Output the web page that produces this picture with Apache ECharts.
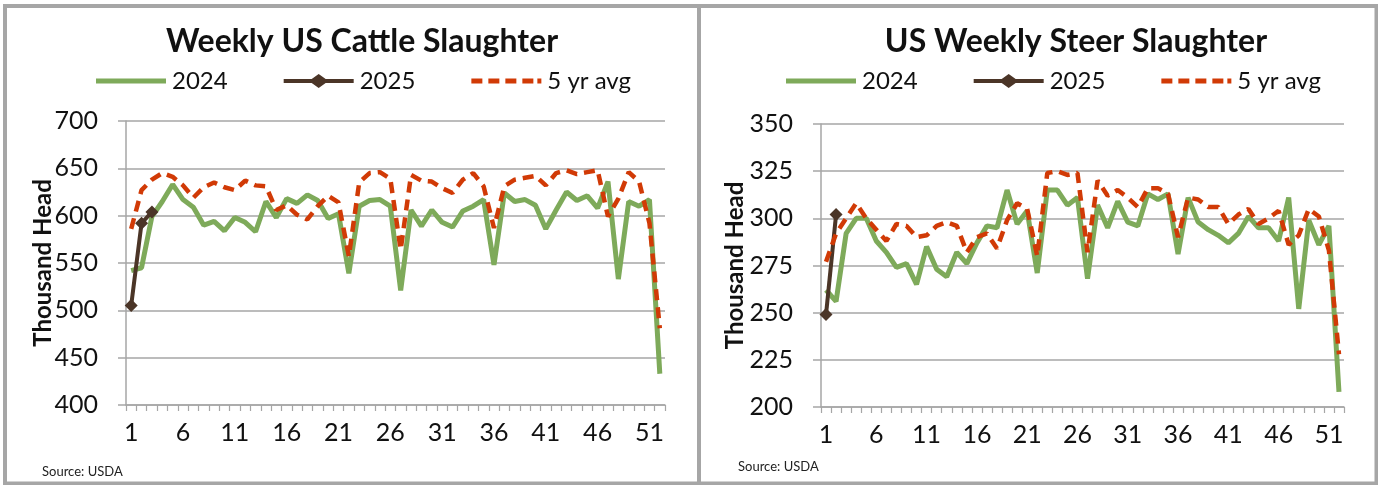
<!DOCTYPE html>
<html>
<head>
<meta charset="utf-8">
<script src="https://cdn.jsdelivr.net/npm/echarts@6/dist/echarts.min.js"></script>
<style>
html,body{margin:0;padding:0;background:#fff;}
#c{width:1378px;height:485px;}
</style>
</head>
<body>
<div id="c"></div>
<script>
const weeks = [1,2,3,4,5,6,7,8,9,10,11,12,13,14,15,16,17,18,19,20,21,22,23,24,25,26,27,28,29,30,31,32,33,34,35,36,37,38,39,40,41,42,43,44,45,46,47,48,49,50,51,52].map(String);

// Weekly US Cattle Slaughter (thousand head)
const cattle2024 = [542,545,599,615,633,617,609,590,594,584,598,593,583,615,598,618,613,622,616,597,602,539,610,616,617,610,521,606,589,606,593,588,605,610,617,548,624,615,617,611,586,606,625,616,621,608,636,533,615,610,617,433];
const cattle2025 = [505,592,604];
const cattleAvg = [586,627,638,645,641,632,619,630,635,630,627,637,632,631,606,611,601,596,610,621,614,557,635,645,646,639,564,643,637,636,629,624,638,645,631,587,631,638,640,642,632,645,648,644,646,648,599,618,646,636,592,481];

// US Weekly Steer Slaughter (thousand head)
const steer2024 = [262,256,292,300,300,288,282,274,276,265,285,273,269,282,276,287,296,295,315,297,304,271,315,315,307,311,268,307,295,309,298,296,313,310,313,281,311,298,294,291,287,292,301,295,295,288,311,252,299,286,296,208];
const steer2025 = [249,302];
const steerAvg = [277,292,300,308,300,294,288,297,296,290,291,296,298,296,282,290,292,284,299,308,305,280,324,325,323,324,282,320,312,315,311,306,316,316,313,290,311,310,306,306,297,302,305,297,300,304,286,291,305,301,283,228];

const cattleTicks = {min:400, max:700, interval:50};
const steerTicks = {min:200, max:350, interval:25};

const GREEN = '#7eaa5a', BROWN = '#4b3527', RED = '#d13a06', GRID = '#a6a6a6';
const FONT = 'Lato';

const ICON_2024 = 'path://M0,0 H70 V5 H0 Z';
const ICON_2025 = 'path://M0,5 H28 L35,0 L42,5 H70 V9 H42 L35,14 L28,9 H0 Z';
const ICON_AVG = 'path://M0,0 h11 v5 h-11 Z M17,0 h11 v5 h-11 Z M34,0 h11 v5 h-11 Z M51,0 h11 v5 h-11 Z M66,0 h4 v5 h-4 Z';

function xAxis(gi){
  return {
    type:'category', gridIndex:gi, data:weeks, boundaryGap:true,
    axisLine:{lineStyle:{color:GRID,width:1.5}},
    axisTick:{show:true,interval:0,length:6,lineStyle:{color:GRID,width:1.2}},
    axisLabel:{interval:4,color:'#111',fontFamily:FONT,fontSize:25,margin:15},
    splitLine:{show:false}
  };
}
function yAxis(gi, t, gap){
  return {
    type:'value', gridIndex:gi, min:t.min, max:t.max, interval:t.interval,
    name:'Thousand Head', nameLocation:'middle', nameGap:gap, nameRotate:90, nameMoveOverlap:false,
    nameTextStyle:{fontFamily:FONT,fontWeight:'bold',fontSize:24,color:'#111'},
    axisLine:{show:true,lineStyle:{color:GRID,width:1.5}},
    axisTick:{show:true,length:8,lineStyle:{color:GRID,width:1.5}},
    axisLabel:{color:'#111',fontFamily:FONT,fontSize:25,margin:28},
    splitLine:{show:true,lineStyle:{color:GRID,width:1.5}}
  };
}
function seriesSet(gi, a, b, c){
  return [
    {name:'2024',type:'line',xAxisIndex:gi,yAxisIndex:gi,data:a,symbol:'none',
     lineStyle:{color:GREEN,width:5},itemStyle:{color:GREEN},z:2,animation:false},
    {name:'2025',type:'line',xAxisIndex:gi,yAxisIndex:gi,data:b,symbol:'diamond',symbolSize:13,showAllSymbol:true,
     lineStyle:{color:BROWN,width:4},itemStyle:{color:BROWN,borderWidth:0},z:3,animation:false},
    {name:'5 yr avg',type:'line',xAxisIndex:gi,yAxisIndex:gi,data:c,symbol:'none',
     lineStyle:{color:RED,width:4.5,type:[11,7]},itemStyle:{color:RED},z:4,animation:false}
  ];
}
function legend(left){
  return {
    left:left, top:64, itemWidth:70, itemHeight:14, itemGap:56,
    itemStyle:{borderWidth:0},
    textStyle:{fontFamily:FONT,fontSize:24,color:'#111',padding:[0,0,0,1]},
    data:[
      {name:'2024', icon:ICON_2024, itemStyle:{color:GREEN,borderWidth:0}},
      {name:'2025', icon:ICON_2025, itemStyle:{color:BROWN,borderWidth:0}},
      {name:'5 yr avg', icon:ICON_AVG, itemStyle:{color:RED,borderWidth:0}}
    ],
    selectedMode:false
  };
}

const chart = echarts.init(document.getElementById('c'), null, {renderer:'canvas'});
chart.setOption({
  animation:false,
  title:[
    {text:'Weekly US Cattle Slaughter', left:357, top:21, textAlign:'center',
     textStyle:{fontFamily:FONT,fontWeight:'bold',fontSize:32,color:'#111'}},
    {text:'US Weekly Steer Slaughter', left:1071, top:21, textAlign:'center',
     textStyle:{fontFamily:FONT,fontWeight:'bold',fontSize:32,color:'#111'}},
    {text:'Source: USDA', left:37, top:460, textStyle:{fontFamily:FONT,fontWeight:'normal',fontSize:13,color:'#222'}},
    {text:'Source: USDA', left:733, top:455, textStyle:{fontFamily:FONT,fontWeight:'normal',fontSize:13,color:'#222'}}
  ],
  legend:[legend(91), legend(781)],
  grid:[
    {left:126, top:121, width:539, height:284},
    {left:821, top:124, width:523, height:283}
  ],
  xAxis:[xAxis(0), xAxis(1)],
  yAxis:[yAxis(0, cattleTicks, 71), yAxis(1, steerTicks, 74)],
  series:[].concat(seriesSet(0, cattle2024, cattle2025, cattleAvg), seriesSet(1, steer2024, steer2025, steerAvg)),
  graphic:[
    {type:'rect', shape:{x:5,y:6,width:694,height:477.5}, style:{fill:'none',stroke:'#a6a6a6',lineWidth:4}, z:100},
    {type:'rect', shape:{x:699,y:6,width:677.5,height:477.5}, style:{fill:'none',stroke:'#a6a6a6',lineWidth:4}, z:100}
  ]
});
</script>
</body>
</html>
